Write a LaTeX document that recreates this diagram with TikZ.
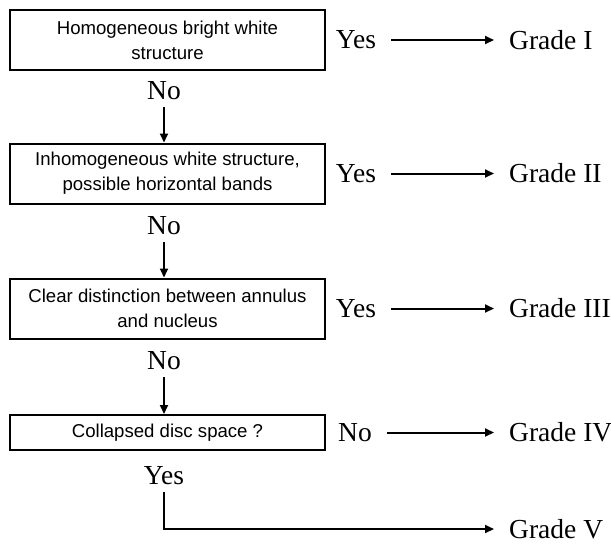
\documentclass[tikz,border=0pt]{standalone}
\usepackage{fontspec}
\setmainfont{Liberation Serif}
\setsansfont{Liberation Sans}
\usetikzlibrary{arrows.meta,positioning}
\tikzset{
  qbox/.style={draw, line width=2pt, minimum width=315pt, minimum height=60pt,
    align=center, inner sep=2pt, font=\sffamily\fontsize{18.6}{25}\selectfont},
  ans/.style={font=\fontsize{27.5}{30}\selectfont, inner xsep=15pt, inner ysep=7pt},
  grd/.style={ans, anchor=west},
  arr/.style={-{Triangle[length=9pt,width=8pt]}, line width=2pt},
}

\begin{document}
\begin{tikzpicture}[x=1pt, y=-1pt]
\useasboundingbox (0,0) rectangle (611,550);
%---- questions
\node[qbox] (q1) at (167.5,40) {Homogeneous bright white\\structure};
\node[qbox] (q2) at (167.5,173.5) {Inhomogeneous white structure,\\possible horizontal bands};
\node[qbox] (q3) at (167.5,308.5) {Clear distinction between annulus\\and nucleus};
\node[qbox, minimum height=35pt] (q4) at (167.5,432.5) {Collapsed disc space ?};
%---- answers down the left
\node[ans] (n1) at (164,91) {No};
\node[ans] (n2) at (164,226) {No};
\node[ans] (n3) at (164,361) {No};
\node[ans] (y4) at (164,476) {Yes};
\draw[arr] (n1) -- (n1 |- q2.north);
\draw[arr] (n2) -- (n2 |- q3.north);
\draw[arr] (n3) -- (n3 |- q4.north);
%---- answers to the right
\node[ans] (y1) at (356,40) {Yes};
\node[ans] (y2) at (356,173.5) {Yes};
\node[ans] (y3) at (356,308.5) {Yes};
\node[ans] (n4) at (355,432.5) {No};
\node[grd] (g1) at (494,40) {Grade I};
\node[grd] (g2) at (494,173.5) {Grade II};
\node[grd] (g3) at (494,308.5) {Grade III};
\node[grd] (g4) at (494,432.5) {Grade IV};
\node[grd] (g5) at (494,529) {Grade V};
\foreach \i in {1,2,3}
  \draw[arr] (y\i) -- (g\i);
\draw[arr] (n4) -- (g4);
\draw[arr] (y4) |- (g5);
\end{tikzpicture}
\end{document}
